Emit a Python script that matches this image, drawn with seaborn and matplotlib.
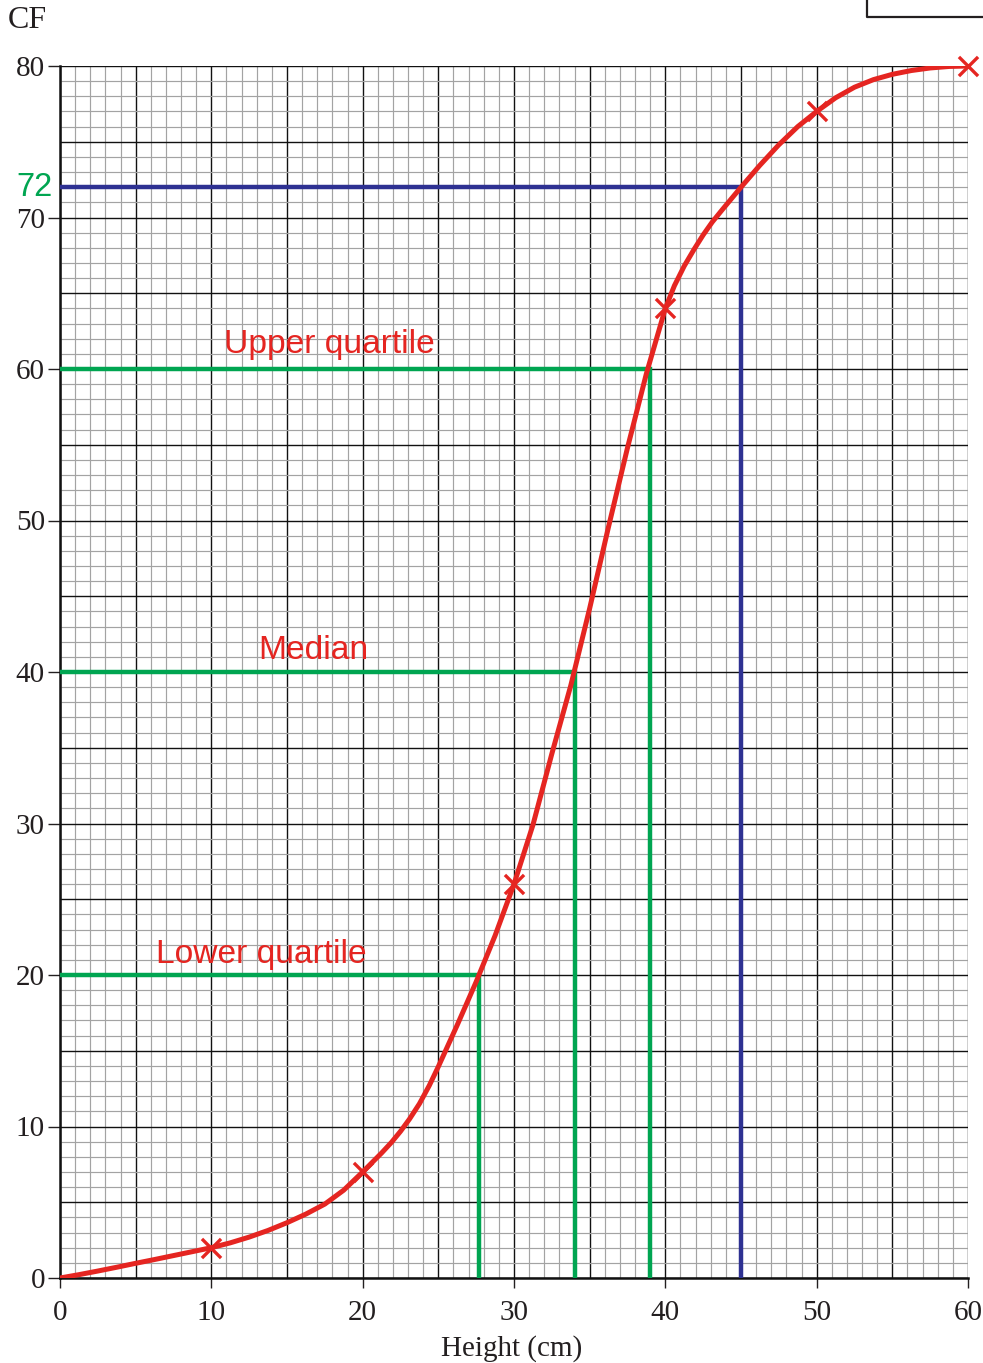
import matplotlib
matplotlib.use("Agg")
import matplotlib.pyplot as plt
from matplotlib.lines import Line2D
import numpy as np
import pandas as pd
import seaborn as sns

# ---- data ----
point_x = [10, 20, 30, 40, 50, 60]
point_cf = [2, 7, 26, 64, 77, 80]

curve_x = [0, 1.25, 2.5, 3.75, 5, 6.25, 7.5, 8.75, 10, 11.25, 12.5, 13.75, 15, 16.25,
           17.5, 18.75, 20, 20.6, 21.25, 21.9, 22.5, 23.1, 23.75, 24.4, 25, 26.25, 27.5,
           28.75, 30, 31.25, 32.5, 33.75, 35, 36.25, 37.5, 38.75, 40, 40.6, 41.25, 41.9,
           42.5, 43.1, 43.75, 44.4, 45, 46.25, 47.5, 48.75, 50, 51.25, 52.5, 53.75, 55,
           56.25, 57.5, 58.75, 60]
curve_cf = [0, 0.22, 0.46, 0.71, 0.97, 1.22, 1.48, 1.74, 2.0, 2.32, 2.7, 3.14, 3.65, 4.22,
            4.88, 5.8, 7.0, 7.6, 8.25, 8.95, 9.68, 10.5, 11.5, 12.7, 13.95, 16.7, 19.55,
            22.6, 26.0, 29.9, 34.6, 39.1, 44.2, 49.6, 54.8, 59.7, 64.0, 65.5, 66.8, 67.9,
            68.85, 69.7, 70.5, 71.28, 72.0, 73.45, 74.8, 76.0, 77.0, 77.9, 78.6, 79.1, 79.45,
            79.7, 79.87, 79.97, 80.0]

quartile_cf = [20, 40, 60]
quartile_x = [27.7, 34, 39]
quartile_names = ["Lower quartile", "Median", "Upper quartile"]
label_x = [6.35, 13.1, 10.85]
label_y = [20.8, 40.85, 61.05]

target_cf = 72
target_x = 45

x_ticks = [0, 10, 20, 30, 40, 50, 60]
y_ticks = [0, 10, 20, 30, 40, 50, 60, 70, 80]

RED = "#e52521"
GREEN = "#00a551"
BLUE = "#2e3192"

sns.set_theme(style="white")
plt.rcParams["font.family"] = ["Liberation Serif", "DejaVu Serif"]

fig = plt.figure(figsize=(9.83, 13.63), dpi=100)
ax = fig.add_axes([60 / 983, 85 / 1363, 908 / 983, 1212 / 1363])

# graph-paper grid
for v in range(0, 61):
    major = v % 5 == 0
    ax.axvline(v, color="#111111" if major else "#a3a3a3",
               lw=1.0 if major else 0.85, zorder=1)
for v in range(0, 81):
    major = v % 5 == 0
    ax.axhline(v, color="#111111" if major else "#a3a3a3",
               lw=1.0 if major else 0.85, zorder=1)

# quartile construction lines
for q, xq in zip(quartile_cf, quartile_x):
    ax.plot([0, xq, xq], [q, q, 0], color=GREEN, lw=3.2, zorder=3,
            solid_joinstyle="miter")
ax.plot([0, target_x, target_x], [target_cf, target_cf, 0], color=BLUE, lw=3.2,
        zorder=3, solid_joinstyle="miter")

# cumulative frequency curve
curve = pd.DataFrame({"x": curve_x, "cf": curve_cf})
sns.lineplot(data=curve, x="x", y="cf", color=RED, lw=3.6, ax=ax, zorder=4,
             estimator=None, sort=False, solid_joinstyle="round",
             solid_capstyle="round")
pts = pd.DataFrame({"x": point_x, "cf": point_cf})
sns.scatterplot(data=pts, x="x", y="cf", marker="x", s=190, color=RED,
                linewidth=2.4, ax=ax, zorder=5, clip_on=False)

for name, lx, ly in zip(quartile_names, label_x, label_y):
    ax.text(lx, ly, name, color=RED, fontsize=24.2, va="baseline", ha="left",
            family=["Liberation Sans", "DejaVu Sans"], zorder=6)

ax.text(-0.5, target_cf, "72", color=GREEN, fontsize=23.5, va="center", ha="right",
        family=["Liberation Sans", "DejaVu Sans"], clip_on=False)

ax.set_xlim(0, 60)
ax.set_ylim(0, 80)
ax.set_xticks(x_ticks)
ax.set_yticks(y_ticks)
ax.set_xticklabels([str(t) for t in x_ticks])
ax.set_yticklabels([str(t) for t in y_ticks])
ax.tick_params(axis="both", which="major", labelsize=21, colors="#231f20",
               direction="out", width=1.0)
ax.tick_params(axis="y", length=8.6, pad=2.2, left=True)
ax.tick_params(axis="x", length=7.2, pad=8.6, bottom=True)
ax.set_xlabel("")
ax.set_ylabel("")

for side in ["top", "right"]:
    ax.spines[side].set_visible(False)
for side in ["left", "bottom"]:
    ax.spines[side].set_visible(True)
    ax.spines[side].set_color("#111111")
    ax.spines[side].set_linewidth(1.8)
    ax.spines[side].set_zorder(2)

fig.text(512 / 983, 1 - 1349 / 1363, "Height (cm)", fontsize=21, ha="center",
         va="center", color="#231f20")
fig.text(8 / 983, 1 - 21 / 1363, "CF", fontsize=23, ha="left", va="center",
         color="#231f20")

# partial box in the top right corner
fig.add_artist(Line2D([867 / 983, 867 / 983, 1.0], [1.0, 1 - 17 / 1363, 1 - 17 / 1363],
                      color="#231f20", lw=1.6, transform=fig.transFigure))

fig.savefig("out.png", dpi=100, facecolor="white")
